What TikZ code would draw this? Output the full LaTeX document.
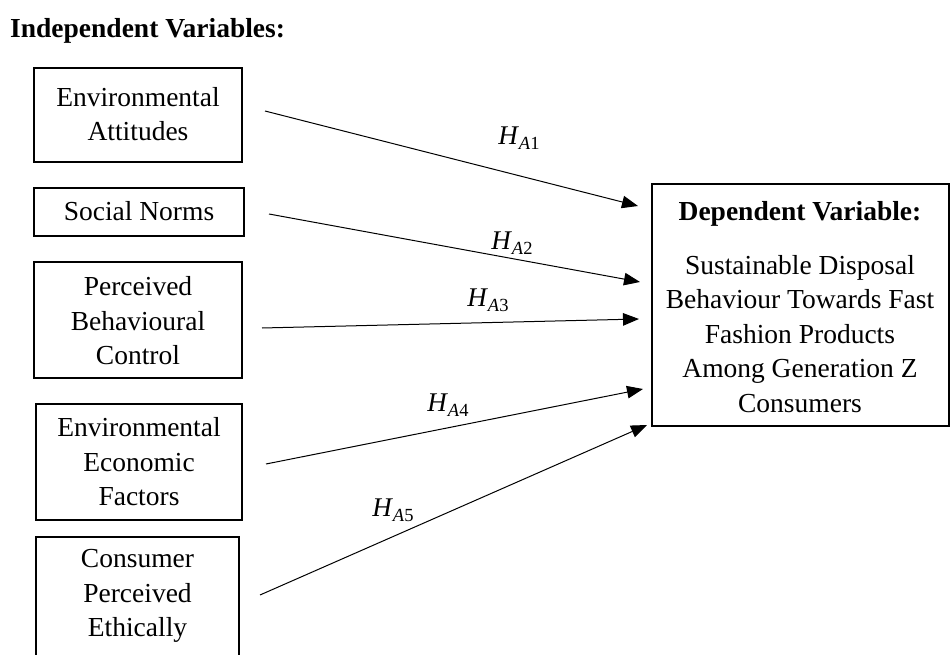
\documentclass[tikz,border=0pt]{standalone}
\usepackage{fontspec}
\setmainfont{Liberation Serif}
\usetikzlibrary{arrows.meta}
\newcommand{\hyplab}[1]{{\fontsize{27}{30}\selectfont\itshape H}\kern1pt\raisebox{-5pt}{\fontsize{18.5}{20}\selectfont\itshape A\upshape #1}}
\begin{document}
\begin{tikzpicture}[x=1pt,y=-1pt,
  ivbox/.style={align=center,inner sep=0pt,
    font=\fontsize{27.5}{34.5}\selectfont},
  frame/.style={line width=1.1pt},
  hyp/.style={-{Triangle[length=16pt,width=12.5pt]},line width=1pt},
  hlab/.style={inner sep=0pt}]
\useasboundingbox (0,0) rectangle (951,655);
\clip (0,0) rectangle (951,655);
\fill[white] (0,0) rectangle (951,655);
% title
\node[anchor=west,inner sep=0pt,font=\fontsize{27.5}{34.5}\selectfont\bfseries] (title) at (10,31) {Independent Variables:};
% independent variable boxes
\draw[frame] (34,68) rectangle (242,162);
\node[ivbox] (b1) at (138,114) {Environmental\\Attitudes};
\draw[frame] (34,188) rectangle (244,236);
\node[ivbox] (b2) at (139,211) {Social Norms};
\draw[frame] (34,262) rectangle (242,378);
\node[ivbox] (b3) at (138,321) {Perceived\\Behavioural\\Control};
\draw[frame] (36,404) rectangle (242,520);
\node[ivbox] (b4) at (139,462) {Environmental\\Economic\\Factors};
\draw[frame] (36,670) -- (36,537) -- (239,537) -- (239,670);
\node[ivbox] (b5) at (137.5,596) {Consumer\\Perceived\\Ethically};
% dependent variable box
\draw[frame] (652,184) rectangle (949,426);
\node[inner sep=0pt,font=\fontsize{27.5}{34.5}\selectfont\bfseries] (dvt) at (800,214) {Dependent Variable:};
\node[ivbox] (dv) at (800,334) {Sustainable Disposal\\Behaviour Towards Fast\\Fashion Products\\Among Generation Z\\Consumers};
% connector ends
\coordinate (s1) at (265,111);
\coordinate (t1) at (638,206);
\coordinate (s2) at (269,214);
\coordinate (t2) at (640,282);
\coordinate (s3) at (262,328);
\coordinate (t3) at (639,319);
\coordinate (s4) at (266,464);
\coordinate (t4) at (643,389);
\coordinate (s5) at (260,595);
\coordinate (t5) at (647,425);
\draw[hyp] (s1) -- (t1);
\draw[hyp] (s2) -- (t2);
\draw[hyp] (s3) -- (t3);
\draw[hyp] (s4) -- (t4);
\draw[hyp] (s5) -- (t5);
% labels
\node[hlab] (h1) at (519,138) {\hyplab{1}};
\node[hlab] (h2) at (512,243) {\hyplab{2}};
\node[hlab] (h3) at (488,300) {\hyplab{3}};
\node[hlab] (h4) at (448,405) {\hyplab{4}};
\node[hlab] (h5) at (393,510) {\hyplab{5}};
\end{tikzpicture}
\end{document}
